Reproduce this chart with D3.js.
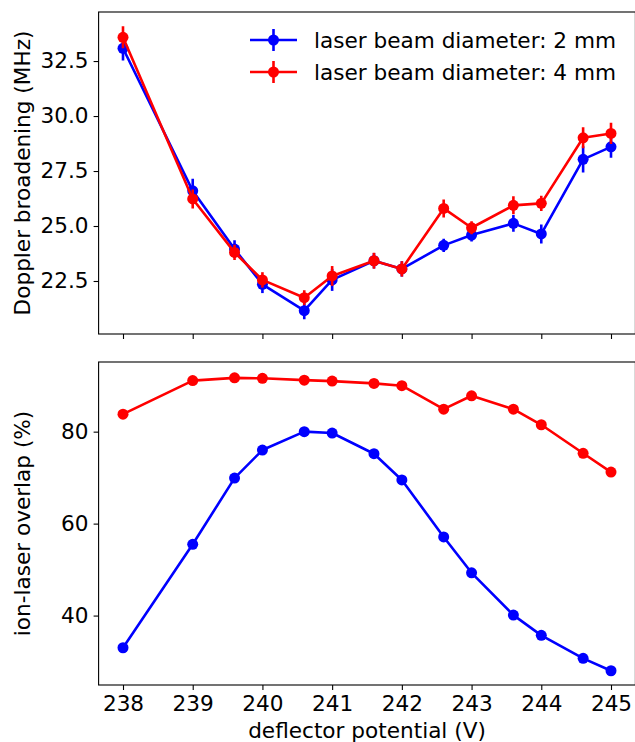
<!DOCTYPE html>
<html>
<head>
<meta charset="utf-8">
<script src="https://cdn.jsdelivr.net/npm/d3@7"></script>
<style>
  html, body { margin: 0; padding: 0; background: #fff; }
  svg { display: block; font-family: "DejaVu Sans", sans-serif; }
</style>
</head>
<body>
<svg id="chart" width="635" height="742"></svg>
<script>
// ---- data ----
const potentials = [238, 239, 239.6, 240, 240.6, 241, 241.6, 242, 242.6, 243, 243.6, 244, 244.6, 245];
const broadening2mm = [33.08, 26.6, 23.95, 22.35, 21.15, 22.55, 23.42, 23.05, 24.12, 24.59, 25.12, 24.64, 28.03, 28.6];
const broadeningErr2mm = [0.55, 0.55, 0.4, 0.4, 0.39, 0.5, 0.35, 0.35, 0.3, 0.3, 0.38, 0.43, 0.6, 0.5];
const broadening4mm = [33.58, 26.23, 23.8, 22.55, 21.74, 22.73, 23.42, 23.05, 25.8, 24.92, 25.94, 26.03, 29.01, 29.21];
const broadeningErr4mm = [0.5, 0.43, 0.35, 0.35, 0.34, 0.45, 0.36, 0.35, 0.41, 0.3, 0.41, 0.35, 0.48, 0.48];
const overlap2mm = [33.0, 55.5, 69.9, 76.0, 80.0, 79.7, 75.2, 69.5, 57.1, 49.3, 40.1, 35.7, 30.7, 28.0];
const overlap4mm = [83.8, 91.1, 91.7, 91.6, 91.2, 91.0, 90.5, 90.0, 84.9, 87.8, 84.9, 81.5, 75.3, 71.2];
const xTicks = [238, 239, 240, 241, 242, 243, 244, 245];
const topTicks = [22.5, 25.0, 27.5, 30.0, 32.5];
const bottomTicks = [40, 60, 80];
const seriesNames = ["laser beam diameter: 2 mm", "laser beam diameter: 4 mm"];
const seriesColors = ["#0000ff", "#ff0000"];

// ---- layout ----
const svg = d3.select("#chart");
const left = 98.6, right = 635.4;
const topBox = {y0: 12, y1: 334};
const botBox = {y0: 362, y1: 685};
const fs = 21.6;

const x = d3.scaleLinear().domain([237.65, 245.35]).range([left, right]);
const yTop = d3.scaleLinear().domain([20.09, 34.73]).range([topBox.y1, topBox.y0]);
const yBot = d3.scaleLinear().domain([24.9, 95.15]).range([botBox.y1, botBox.y0]);

function styleAxis(g) {
  g.selectAll("path.domain").remove();
  g.selectAll(".tick line").attr("stroke", "#000").attr("stroke-width", 1.1);
  g.selectAll(".tick text").attr("font-size", fs).attr("fill", "#000").attr("font-family", "DejaVu Sans");
}

function drawFrame(box) {
  svg.append("rect").attr("x", left).attr("y", box.y0)
    .attr("width", right - left).attr("height", box.y1 - box.y0)
    .attr("fill", "none").attr("stroke", "#000").attr("stroke-width", 1.1);
}

// top axes
svg.append("g").attr("transform", `translate(0,${topBox.y1})`)
  .call(d3.axisBottom(x).tickValues(xTicks).tickSize(5).tickFormat(""))
  .call(styleAxis);
svg.append("g").attr("transform", `translate(${left},0)`)
  .call(d3.axisLeft(yTop).tickValues(topTicks).tickSize(5).tickPadding(5).tickFormat(d3.format(".1f")))
  .call(styleAxis);

// bottom axes
svg.append("g").attr("transform", `translate(0,${botBox.y1})`)
  .call(d3.axisBottom(x).tickValues(xTicks).tickSize(5).tickPadding(6).tickFormat(d3.format("d")))
  .call(styleAxis);
svg.append("g").attr("transform", `translate(${left},0)`)
  .call(d3.axisLeft(yBot).tickValues(bottomTicks).tickSize(5).tickPadding(5).tickFormat(d3.format("d")))
  .call(styleAxis);

// clip paths
const defs = svg.append("defs");
defs.append("clipPath").attr("id", "clipTop").append("rect")
  .attr("x", left).attr("y", topBox.y0).attr("width", right - left).attr("height", topBox.y1 - topBox.y0);
defs.append("clipPath").attr("id", "clipBot").append("rect")
  .attr("x", left).attr("y", botBox.y0).attr("width", right - left).attr("height", botBox.y1 - botBox.y0);

const lw = 2.6, r = 5.5;

function drawSeries(g, ys, errs, yScale, color) {
  const line = d3.line().x((d, i) => x(potentials[i])).y(d => yScale(d));
  if (errs) {
    g.selectAll(null).data(ys).enter().append("line")
      .attr("x1", (d, i) => x(potentials[i])).attr("x2", (d, i) => x(potentials[i]))
      .attr("y1", (d, i) => yScale(d - errs[i])).attr("y2", (d, i) => yScale(d + errs[i]))
      .attr("stroke", color).attr("stroke-width", lw);
  }
  g.append("path").datum(ys).attr("d", line)
    .attr("fill", "none").attr("stroke", color).attr("stroke-width", lw)
    .attr("stroke-linejoin", "round");
  g.selectAll(null).data(ys).enter().append("circle")
    .attr("cx", (d, i) => x(potentials[i])).attr("cy", d => yScale(d))
    .attr("r", r).attr("fill", color);
}

const gTop = svg.append("g").attr("clip-path", "url(#clipTop)");
drawSeries(gTop, broadening2mm, broadeningErr2mm, yTop, seriesColors[0]);
drawSeries(gTop, broadening4mm, broadeningErr4mm, yTop, seriesColors[1]);

const gBot = svg.append("g").attr("clip-path", "url(#clipBot)");
drawSeries(gBot, overlap2mm, null, yBot, seriesColors[0]);
drawSeries(gBot, overlap4mm, null, yBot, seriesColors[1]);

drawFrame(topBox);
drawFrame(botBox);

// axis labels
svg.append("text").attr("transform", `translate(30,${(topBox.y0 + topBox.y1) / 2}) rotate(-90)`)
  .attr("text-anchor", "middle").attr("font-size", fs).attr("fill", "#000")
  .text("Doppler broadening (MHz)");
svg.append("text").attr("transform", `translate(30,${(botBox.y0 + botBox.y1) / 2}) rotate(-90)`)
  .attr("text-anchor", "middle").attr("font-size", fs).attr("fill", "#000")
  .text("ion-laser overlap (%)");
svg.append("text").attr("x", (left + right) / 2).attr("y", 738)
  .attr("text-anchor", "middle").attr("font-size", fs).attr("fill", "#000")
  .text("deflector potential (V)");

// legend
const legend = svg.append("g");
seriesNames.forEach((name, i) => {
  const cy = 40 + i * 32;
  const lg = legend.append("g");
  lg.append("line").attr("x1", 250).attr("x2", 297).attr("y1", cy).attr("y2", cy)
    .attr("stroke", seriesColors[i]).attr("stroke-width", lw);
  lg.append("line").attr("x1", 273.5).attr("x2", 273.5).attr("y1", cy - 11).attr("y2", cy + 11)
    .attr("stroke", seriesColors[i]).attr("stroke-width", lw);
  lg.append("circle").attr("cx", 273.5).attr("cy", cy).attr("r", r).attr("fill", seriesColors[i]);
  lg.append("text").attr("x", 314).attr("y", cy).attr("dy", "0.36em")
    .attr("font-size", fs).attr("fill", "#000").text(name);
});
</script>
</body>
</html>
